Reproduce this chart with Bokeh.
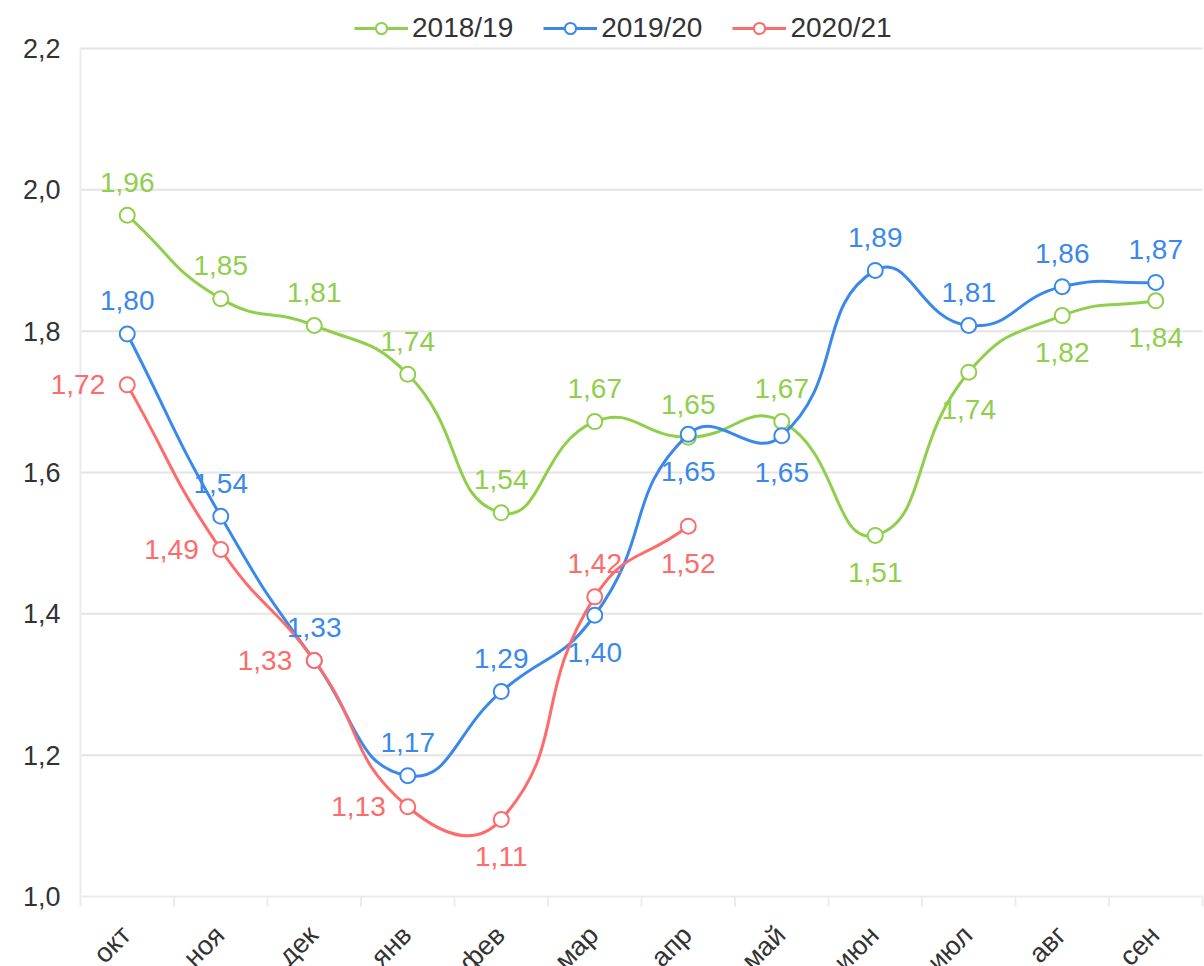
import math
from bokeh.plotting import figure
from bokeh.models import (ColumnDataSource, LabelSet, Range1d, Legend, LegendItem)
from bokeh.core.properties import value
from bokeh.embed import file_html
from bokeh.resources import INLINE

# ---------------- data ----------------
months = ["окт", "ноя", "дек", "янв", "фев", "мар", "апр", "май", "июн", "июл", "авг", "сен"]
series_names = ["2018/19", "2019/20", "2020/21"]
v_2018_19 = [1.964, 1.846, 1.808, 1.739, 1.543, 1.672, 1.650, 1.672, 1.511, 1.742, 1.822, 1.843]
v_2019_20 = [1.796, 1.538, 1.334, 1.171, 1.290, 1.398, 1.654, 1.652, 1.886, 1.808, 1.863, 1.869]
v_2020_21 = [1.724, 1.491, 1.334, 1.127, 1.109, 1.424, 1.524]
y_ticks = [1.0, 1.2, 1.4, 1.6, 1.8, 2.0, 2.2]

# ---------------- styles ----------------
FONT = "Liberation Sans"
TEXT = "#333333"
colors = {"2018/19": "#8fcf4c", "2019/20": "#3a89ea", "2020/21": "#fd6b6b"}
label_place = {
    "2018/19": ["top"] * 8 + ["bottom"] * 4,
    "2019/20": ["top"] * 5 + ["bottom"] * 3 + ["top"] * 4,
    "2020/21": ["left"] * 4 + ["bottom", "top", "bottom"],
}
values = {"2018/19": v_2018_19, "2019/20": v_2019_20, "2020/21": v_2020_21}

# figure and plot-area geometry (pixels)
W, H = 1204, 966
PAD_LEFT, PAD_RIGHT, PAD_TOP, PAD_BOTTOM = 80, 2, 48, 70
n_cat = len(months)
plot_w = W - PAD_LEFT - PAD_RIGHT
plot_h = H - PAD_TOP - PAD_BOTTOM
px_per_cat = plot_w / n_cat
px_per_unit = plot_h / (y_ticks[-1] - y_ticks[0])
ASPECT = px_per_unit / px_per_cat

x_range = Range1d(-PAD_LEFT / px_per_cat, n_cat + PAD_RIGHT / px_per_cat)
y_range = Range1d(y_ticks[0] - PAD_BOTTOM / px_per_unit, y_ticks[-1] + PAD_TOP / px_per_unit)

p = figure(width=W, height=H, output_backend="svg", toolbar_location=None,
           x_range=x_range, y_range=y_range,
           x_axis_location=None, y_axis_location=None,
           min_border=0)
p.outline_line_color = None
p.background_fill_color = "white"
p.border_fill_color = "white"
p.grid.visible = False

GRID = "#e4e4e4"
AXIS = "#ececec"
TICK_LEN = 10 / px_per_unit

# horizontal grid lines (plot area only)
p.segment(x0=[0] * (len(y_ticks) - 1), x1=[n_cat] * (len(y_ticks) - 1),
          y0=y_ticks[1:], y1=y_ticks[1:], line_color=GRID, line_width=2)
# axis lines
p.segment(x0=[0], x1=[n_cat], y0=[y_ticks[0]], y1=[y_ticks[0]], line_color=AXIS, line_width=2)
p.segment(x0=[0], x1=[0], y0=[y_ticks[0]], y1=[y_ticks[-1]], line_color=AXIS, line_width=2)
# category boundary ticks under the x axis
bounds = list(range(n_cat + 1))
p.segment(x0=bounds, x1=bounds, y0=[y_ticks[0]] * len(bounds),
          y1=[y_ticks[0] - TICK_LEN] * len(bounds), line_color=AXIS, line_width=2)

# y tick labels
ylab = ColumnDataSource(dict(x=[0] * len(y_ticks), y=y_ticks,
                             t=[f"{t:.1f}".replace(".", ",") for t in y_ticks]))
p.add_layout(LabelSet(x="x", y="y", text="t", source=ylab, x_offset=-20,
                      text_align="right", text_baseline="middle",
                      text_color=TEXT, text_font=value(FONT),
                      text_font_size="27px"))

# x category labels (rotated 45°)
xlab = ColumnDataSource(dict(x=[i + 0.5 for i in range(n_cat)],
                             y=[y_ticks[0]] * n_cat, t=months))
p.add_layout(LabelSet(x="x", y="y", text="t", source=xlab, x_offset=-1, y_offset=-34,
                      angle=math.pi / 4, text_align="right", text_baseline="middle",
                      text_color=TEXT, text_font=value(FONT),
                      text_font_size="27px"))


def smooth_segments(xs, ys, smooth=0.5):
    """Bezier control points (ECharts-like smoothing, computed in pixel space)."""
    n = len(xs)
    P = [(x, y * ASPECT) for x, y in zip(xs, ys)]
    cin, cout = [], []
    for i in range(n):
        a, b = max(i - 1, 0), min(i + 1, n - 1)
        vx, vy = P[b][0] - P[a][0], P[b][1] - P[a][1]
        d0 = math.hypot(P[i][0] - P[a][0], P[i][1] - P[a][1])
        d1 = math.hypot(P[b][0] - P[i][0], P[b][1] - P[i][1])
        r = d1 / (d0 + d1) if d0 + d1 > 0 else 0.5
        cout.append((P[i][0] + vx * smooth * r, P[i][1] + vy * smooth * r))
        cin.append((P[i][0] - vx * smooth * (1 - r), P[i][1] - vy * smooth * (1 - r)))
    seg = dict(x0=[], y0=[], x1=[], y1=[], cx0=[], cy0=[], cx1=[], cy1=[])
    for i in range(n - 1):
        seg["x0"].append(xs[i]); seg["y0"].append(ys[i])
        seg["x1"].append(xs[i + 1]); seg["y1"].append(ys[i + 1])
        seg["cx0"].append(cout[i][0]); seg["cy0"].append(cout[i][1] / ASPECT)
        seg["cx1"].append(cin[i + 1][0]); seg["cy1"].append(cin[i + 1][1] / ASPECT)
    return seg


items = []
for name in series_names:
    vals = values[name]
    col = colors[name]
    xs = [i + 0.5 for i in range(len(vals))]
    seg_src = ColumnDataSource(smooth_segments(xs, vals))
    r_curve = p.bezier(x0="x0", y0="y0", x1="x1", y1="y1", cx0="cx0", cy0="cy0",
                       cx1="cx1", cy1="cy1", source=seg_src, line_color=col, line_width=3)
    pts = ColumnDataSource(dict(x=xs, y=vals))
    r_pts = p.scatter(x="x", y="y", source=pts, size=15, marker="circle",
                      fill_color="white", line_color=col, line_width=2)
    items.append(LegendItem(label=name, renderers=[r_curve, r_pts]))

    xo, yo, al = [], [], []
    for pl in label_place[name]:
        if pl == "top":
            xo.append(0); yo.append(33); al.append("center")
        elif pl == "bottom":
            xo.append(0); yo.append(-37); al.append("center")
        else:
            xo.append(-22); yo.append(0); al.append("right")
    lab_src = ColumnDataSource(dict(
        x=xs, y=vals,
        t=[f"{v:.2f}".replace(".", ",") for v in vals],
        xo=xo, yo=yo, al=al))
    p.add_layout(LabelSet(x="x", y="y", text="t", source=lab_src,
                          x_offset="xo", y_offset="yo", text_align="al",
                          text_baseline="middle", text_color=col,
                          text_font=value(FONT), text_font_size="28px"))

legend = Legend(items=items, orientation="horizontal",
                location=(354, H - 28 - 16),
                label_text_font=FONT, label_text_font_size="28px",
                label_text_color=TEXT, glyph_width=54, glyph_height=28,
                label_standoff=4, spacing=30, padding=0, margin=0,
                border_line_color=None, background_fill_alpha=0)
p.add_layout(legend)

open("out.html", "w").write(file_html(p, INLINE))
